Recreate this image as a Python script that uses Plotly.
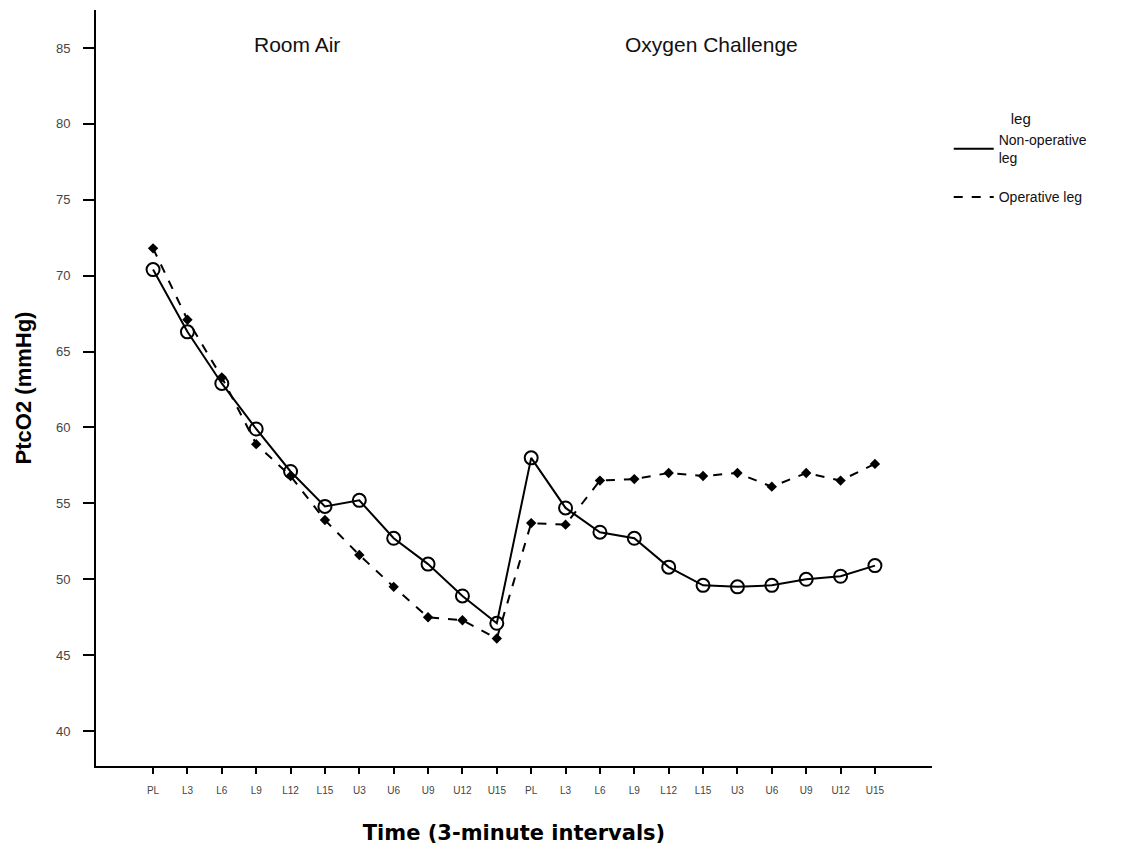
import plotly.graph_objects as go

# Measurement time points: room air block followed by oxygen challenge block
time_labels = ["PL", "L3", "L6", "L9", "L12", "L15", "U3", "U6", "U9", "U12", "U15",
               "PL", "L3", "L6", "L9", "L12", "L15", "U3", "U6", "U9", "U12", "U15"]

# Mean PtcO2 (mmHg)
non_operative = [70.4, 66.3, 62.9, 59.9, 57.1, 54.8, 55.2, 52.7, 51.0, 48.9, 47.1,
                 58.0, 54.7, 53.1, 52.7, 50.8, 49.6, 49.5, 49.6, 50.0, 50.2, 50.9]
operative = [71.8, 67.1, 63.3, 58.9, 56.8, 53.9, 51.6, 49.5, 47.5, 47.3, 46.1,
             53.7, 53.6, 56.5, 56.6, 57.0, 56.8, 57.0, 56.1, 57.0, 56.5, 57.6]

phase_labels = ["Room Air", "Oxygen Challenge"]
phase_centers = [4.2, 16.25]

x_idx = list(range(len(time_labels)))

fig = go.Figure()
fig.add_trace(go.Scatter(
    x=x_idx, y=non_operative, name="Non-operative<br>leg",
    mode="lines+markers", showlegend=False,
    line=dict(color="black", width=2),
    marker=dict(symbol="circle-open", size=13, color="black", line=dict(width=2)),
))
fig.add_trace(go.Scatter(
    x=x_idx, y=operative, name="Operative leg",
    mode="lines+markers", showlegend=False,
    line=dict(color="black", width=2, dash="dash"),
    marker=dict(symbol="diamond", size=8, color="black"),
))

# Legend entries show line style only
fig.add_trace(go.Scatter(
    x=[None], y=[None], name="Non-operative<br>leg", mode="lines",
    legendgroup="a", line=dict(color="black", width=2),
))
fig.add_trace(go.Scatter(
    x=[None], y=[None], name="Operative leg", mode="lines",
    legendgroup="b", line=dict(color="black", width=2, dash="dash"),
))

for label, cx in zip(phase_labels, phase_centers):
    fig.add_annotation(x=cx, y=85.2, xref="x", yref="y", text=label,
                       showarrow=False,
                       font=dict(family="Liberation Sans Narrow, Liberation Sans, Arial",
                                 size=21, color="#111"))

fig.update_layout(
    width=1136, height=852,
    paper_bgcolor="white", plot_bgcolor="white",
    margin=dict(l=96, r=204, t=10, b=86),
    font=dict(family="Liberation Sans, Arial", color="#222"),
    legend=dict(
        title=dict(text="leg", side="top center",
                   font=dict(family="Liberation Sans Narrow, Liberation Sans", size=15)),
        x=1.02, y=0.875, xanchor="left", yanchor="top",
        font=dict(family="Liberation Sans Narrow, Liberation Sans", size=14, color="#111"),
        itemwidth=40, tracegroupgap=18,
    ),
    xaxis=dict(
        range=[-1.66, 22.66],
        tickmode="array", tickvals=x_idx, ticktext=time_labels,
        showline=True, linecolor="black", linewidth=2,
        ticks="outside", ticklen=6, tickwidth=2, tickcolor="black",
        ticklabelstandoff=8,
        tickfont=dict(size=10, color="#444"),
        showgrid=False, zeroline=False,
        title=dict(text="<b>Time (3-minute intervals)</b>", standoff=30,
                   font=dict(family="DejaVu Sans, Verdana", size=21, color="black")),
    ),
    yaxis=dict(
        range=[37.7, 87.5],
        tickmode="array", tickvals=[40, 45, 50, 55, 60, 65, 70, 75, 80, 85],
        showline=True, linecolor="black", linewidth=2,
        ticks="outside", ticklen=11, tickwidth=2, tickcolor="black",
        ticklabelstandoff=10,
        tickfont=dict(size=13, color="#444"),
        showgrid=False, zeroline=False,
        title=dict(text="<b>PtcO2 (mmHg)</b>", standoff=18,
                   font=dict(family="Liberation Sans, Arial", size=22, color="black")),
    ),
)

fig.write_html("out.html")
